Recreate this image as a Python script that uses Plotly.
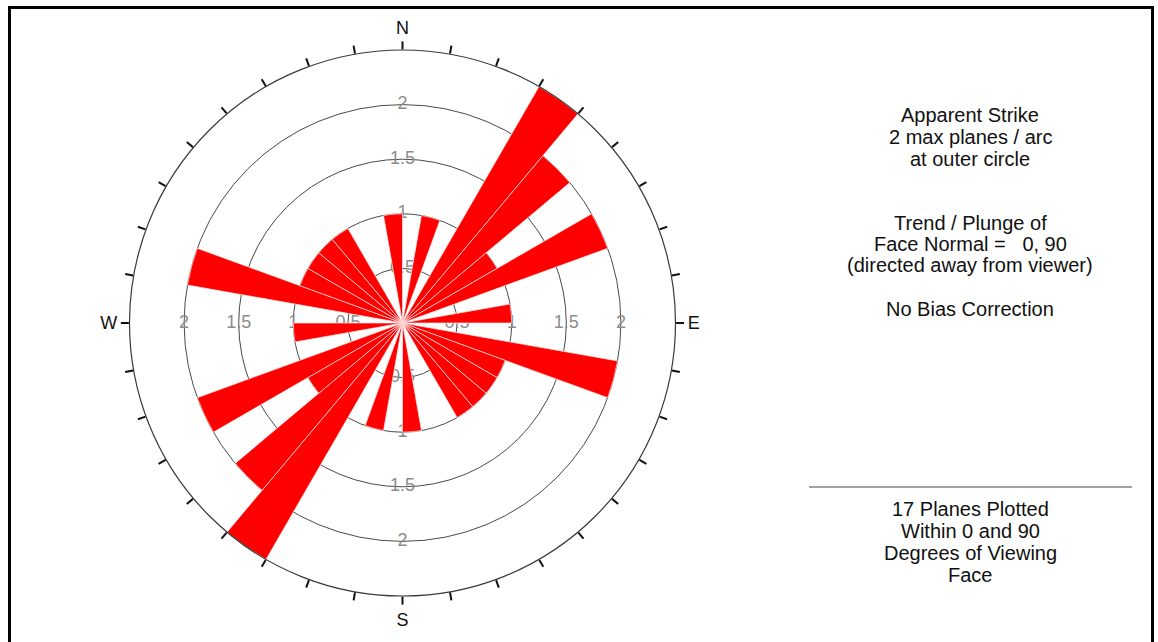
import plotly.graph_objects as go

# ---------------- data ----------------
bin_starts = list(range(0, 360, 10))          # apparent strike bins (deg, clockwise from N)
bin_width = 10
bar_r = [0, 1.0, 0, 2.5, 2.0, 1.0, 2.0, 0, 1.0,
         0, 2.0, 1.0, 1.0, 1.0, 1.0, 0, 0, 1.0,
         0, 1.0, 0, 2.5, 2.0, 1.0, 2.0, 0, 1.0,
         0, 2.0, 1.0, 1.0, 1.0, 1.0, 0, 0, 1.0]
ring_vals = [0.5, 1, 1.5, 2]
ring_labels = ["0.5", "1", "1.5", "2"]
outer_r = 2.5
compass_theta = [0, 90, 180, 270]
compass_text = ["N", "E", "S", "W"]
outer_tick_vals = list(range(0, 360, 10))

info_lines = [
    ("Apparent Strike", 115),
    ("2 max planes / arc", 137),
    ("at outer circle", 159),
    ("Trend / Plunge of", 223),
    ("Face Normal =\u00a0\u00a0 0, 90", 244),
    ("(directed away from viewer)", 265),
    ("No Bias Correction", 309),
    ("17 Planes Plotted", 509),
    ("Within 0 and 90", 531),
    ("Degrees of Viewing", 553),
    ("Face", 575),
]

# ---------------- layout geometry ----------------
W, H = 1158, 642
cx, cy = 402.5, 323.0
R = 273.0
xdom = [(cx - R) / W, (cx + R) / W]
ydom = [(H - cy - R) / H, (H - cy + R) / H]

FONT = "Liberation Sans, Arial, sans-serif"

fig = go.Figure()

# ring labels (bottom polar, under the bars)
lab_r, lab_t, lab_s = [], [], []
for th in compass_theta:
    for rv, rl in zip(ring_vals, ring_labels):
        lab_r.append(rv)
        lab_t.append(th)
        lab_s.append(rl)
fig.add_trace(go.Scatterpolar(
    r=lab_r, theta=lab_t, text=lab_s, mode="text",
    textposition="middle center",
    textfont=dict(family=FONT, size=18, color="#8c8c8c"),
    hoverinfo="skip", showlegend=False, subplot="polar", cliponaxis=False,
))

# rose bars (top polar)
fig.add_trace(go.Barpolar(
    r=bar_r, theta=[b + bin_width / 2 for b in bin_starts], width=[bin_width] * len(bin_starts),
    marker=dict(color="#ff0000", line=dict(color="#ffe6e6", width=0.7)),
    hoverinfo="skip", showlegend=False, subplot="polar2",
))

tick_text = []
for v in outer_tick_vals:
    tick_text.append(compass_text[compass_theta.index(v)] if v in compass_theta else "")

fig.update_layout(
    width=W, height=H,
    margin=dict(l=0, r=0, t=0, b=0),
    paper_bgcolor="white",
    showlegend=False,
    polar=dict(
        domain=dict(x=xdom, y=ydom),
        bgcolor="rgba(0,0,0,0)",
        radialaxis=dict(range=[0, outer_r], tickvals=ring_vals, showticklabels=False,
                        ticks="", showline=False, showgrid=True,
                        gridcolor="#4a4a4a", gridwidth=1),
        angularaxis=dict(rotation=90, direction="clockwise", showline=False,
                         showgrid=False, showticklabels=False, ticks=""),
    ),
    polar2=dict(
        domain=dict(x=xdom, y=ydom),
        bgcolor="rgba(0,0,0,0)",
        radialaxis=dict(range=[0, outer_r], visible=False),
        angularaxis=dict(rotation=90, direction="clockwise",
                         showline=True, linecolor="#3a3a3a", linewidth=1.2,
                         showgrid=False, ticks="outside", ticklen=8, tickwidth=1.5,
                         tickcolor="#111111",
                         tickmode="array", tickvals=outer_tick_vals, ticktext=tick_text,
                         tickfont=dict(family=FONT, size=18, color="#111111")),
    ),
)

# right-hand information text
for txt, ypx in info_lines:
    fig.add_annotation(
        x=970 / W, y=1 - ypx / H, xref="paper", yref="paper",
        text=txt, showarrow=False, xanchor="center", yanchor="middle",
        font=dict(family=FONT, size=20, color="#111111"),
    )

# separator line on the right
fig.add_shape(type="line", xref="paper", yref="paper",
              x0=809 / W, x1=1132 / W, y0=1 - 487 / H, y1=1 - 487 / H,
              line=dict(color="#444444", width=1.2))

# outer frame
fig.add_shape(type="rect", xref="paper", yref="paper",
              x0=9.5 / W, x1=1152.5 / W, y0=-0.1, y1=1 - 7.5 / H,
              line=dict(color="#000000", width=3), fillcolor="rgba(0,0,0,0)")

fig.write_html("out.html")
